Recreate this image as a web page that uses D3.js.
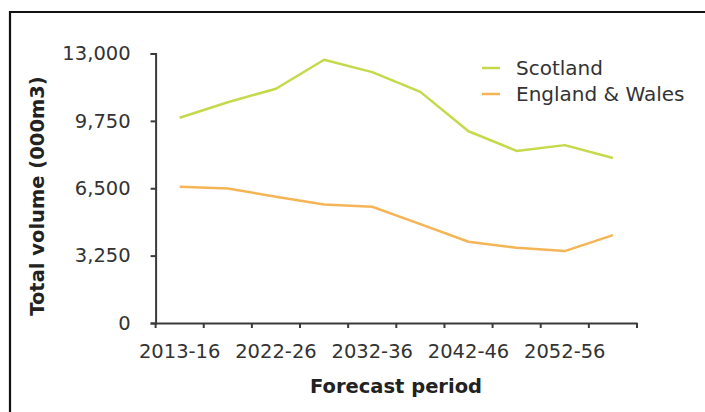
<!DOCTYPE html>
<html><head><meta charset="utf-8">
<script src="https://cdn.jsdelivr.net/npm/d3@7"></script>
<style>
html,body{margin:0;padding:0;background:#fff;}
svg{display:block;}
text{font-family:Verdana,"DejaVu Sans",sans-serif;}
</style></head>
<body>
<svg id="c" width="705" height="412"></svg>
<script>
const categories = ["2013-16","2017-21","2022-26","2027-31","2032-36","2037-41","2042-46","2047-51","2052-56","2057-61"];
const scotland = [9900, 10650, 11300, 12700, 12100, 11150, 9250, 8300, 8580, 7960];
const englandWales = [6570, 6490, 6090, 5720, 5610, 4770, 3920, 3630, 3470, 4240];
const yTicks = [0, 3250, 6500, 9750, 13000];
const seriesNames = ["Scotland", "England & Wales"];
const seriesColors = ["#c5d94a", "#f5b556"];

const FS = 19.5;
const svg = d3.select("#c");
// frame
svg.append("line").attr("x1",9).attr("x2",705).attr("y1",12).attr("y2",12).attr("stroke","#111").attr("stroke-width",2.2);
svg.append("line").attr("x1",10).attr("x2",10).attr("y1",11).attr("y2",412).attr("stroke","#111").attr("stroke-width",2.2);

const x = d3.scaleBand().domain(categories).range([155.6, 637]).paddingInner(0).paddingOuter(0);
const y = d3.scaleLinear().domain([0, 13000]).range([323, 53.5]);
const axisColor = "#3a3a3a";
const textColor = "#333";

// y axis
const gy = svg.append("g").attr("transform","translate(155.6,0)")
  .call(d3.axisLeft(y).tickValues(yTicks).tickFormat(d3.format(",")).tickSize(5).tickPadding(20));
gy.select(".domain").attr("stroke",axisColor).attr("stroke-width",2);
gy.selectAll(".tick line").attr("stroke",axisColor).attr("stroke-width",2);
gy.selectAll(".tick text").attr("fill",textColor).attr("font-size",FS).attr("font-family",'Verdana,"DejaVu Sans",sans-serif');

// x axis
const gx = svg.append("g").attr("transform","translate(0,323)")
  .call(d3.axisBottom(x).tickSize(0).tickPadding(21).tickFormat((d,i)=> i%2===0 ? d : ""));
gx.select(".domain").attr("stroke",axisColor).attr("stroke-width",2);
gx.selectAll(".tick text").attr("fill",textColor).attr("font-size",FS).attr("font-family",'Verdana,"DejaVu Sans",sans-serif');
const edges = categories.map(c => x(c)).concat([x.range()[1]]);
gx.selectAll(".edge").data(edges).enter().append("line").attr("class","edge")
  .attr("x1",d=>d).attr("x2",d=>d).attr("y1",0).attr("y2",5).attr("stroke",axisColor).attr("stroke-width",2);

// lines
const line = d3.line().x((d,i)=> x(categories[i]) + x.bandwidth()/2).y(d=>y(d));
[scotland, englandWales].forEach((s,k)=>{
  svg.append("path").datum(s).attr("d",line).attr("fill","none")
    .attr("stroke",seriesColors[k]).attr("stroke-width",2.5).attr("stroke-linejoin","round");
});

// axis titles
svg.append("text").attr("transform","translate(44,196) rotate(-90)").attr("text-anchor","middle")
  .attr("font-weight","bold").attr("font-size",FS).attr("fill","#222").text("Total volume (000m3)");
svg.append("text").attr("x",396).attr("y",393).attr("text-anchor","middle")
  .attr("font-weight","bold").attr("font-size",FS).attr("fill","#222").text("Forecast period");

// legend
seriesNames.forEach((n,k)=>{
  const ly = 68 + k*26;
  svg.append("line").attr("x1",482).attr("x2",500).attr("y1",ly).attr("y2",ly).attr("stroke",seriesColors[k]).attr("stroke-width",2.5);
  svg.append("text").attr("x",516).attr("y",ly+7).attr("font-size",FS+0.5).attr("fill",textColor).text(n);
});
</script>
</body></html>
